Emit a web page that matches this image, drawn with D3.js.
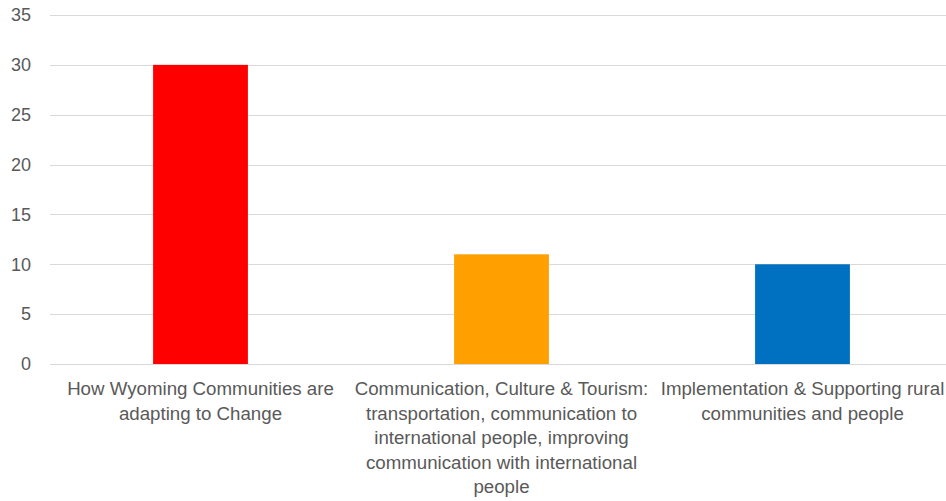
<!DOCTYPE html>
<html>
<head>
<meta charset="utf-8">
<script src="https://cdn.jsdelivr.net/npm/d3@7"></script>
<style>
  html, body { margin: 0; padding: 0; background: #fff; }
  svg { display: block; }
  text { font-family: "Liberation Sans", Arial, sans-serif; fill: #595959; }
</style>
</head>
<body>
<svg id="chart" width="946" height="501"></svg>
<script>
// Category labels, one entry per wrapped line
const categories = [
  ["How Wyoming Communities are", "adapting to Change"],
  ["Communication, Culture & Tourism:", "transportation, communication to", "international people, improving", "communication with international", "people"],
  ["Implementation & Supporting rural", "communities and people"]
];
const values = [30, 11, 10];
const colors = ["#ff0000", "#ffa000", "#0070c0"];
const yTicks = [0, 5, 10, 15, 20, 25, 30, 35];

const W = 946, H = 501;
const margin = { left: 50, right: -7, top: 15, bottom: 137 };

const svg = d3.select("#chart");

const x = d3.scaleBand()
  .domain(d3.range(categories.length))
  .range([margin.left, W - margin.right])
  .paddingInner(0.685)
  .paddingOuter(0.3425);

const y = d3.scaleLinear()
  .domain([0, 35])
  .range([H - margin.bottom, margin.top]);

// Horizontal gridlines
svg.append("g")
  .selectAll("line")
  .data(yTicks)
  .join("line")
  .attr("x1", margin.left)
  .attr("x2", W)
  .attr("y1", d => Math.round(y(d)) + 0.5)
  .attr("y2", d => Math.round(y(d)) + 0.5)
  .attr("stroke", "#d9d9d9")
  .attr("stroke-width", 1);

// Y axis labels
const yAxis = d3.axisLeft(y).tickValues(yTicks).tickSize(0).tickPadding(0);
svg.append("g")
  .attr("transform", `translate(31,0)`)
  .call(yAxis)
  .call(g => g.select(".domain").remove())
  .call(g => g.selectAll("text")
    .attr("fill", "#595959")
    .style("font-family", "\"Liberation Sans\", Arial, sans-serif")
    .style("font-size", "18px"));

// Bars
svg.append("g")
  .selectAll("rect")
  .data(values)
  .join("rect")
  .attr("x", (d, i) => x(i))
  .attr("y", d => y(d))
  .attr("width", x.bandwidth())
  .attr("height", d => y(0) - y(d))
  .attr("fill", (d, i) => colors[i]);

// Category labels, centred under each band
const labels = svg.append("g")
  .selectAll("text")
  .data(categories)
  .join("text")
  .attr("x", (d, i) => x(i) + x.bandwidth() / 2)
  .attr("y", 395)
  .attr("text-anchor", "middle")
  .style("font-size", "18.7px");

labels.selectAll("tspan")
  .data(d => d)
  .join("tspan")
  .attr("x", function () { return d3.select(this.parentNode).attr("x"); })
  .attr("dy", (d, i) => i === 0 ? 0 : 24.5)
  .text(d => d);
</script>
</body>
</html>
